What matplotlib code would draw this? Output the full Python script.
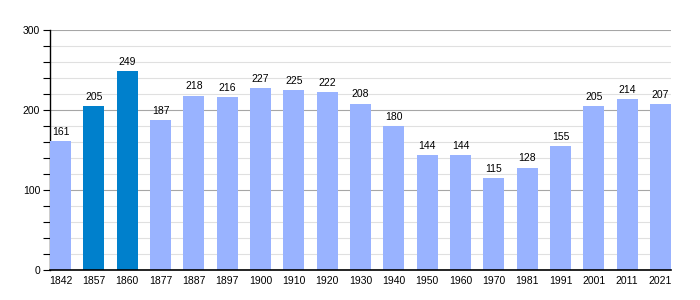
import matplotlib.pyplot as plt
from matplotlib.ticker import MultipleLocator

years = ["1842", "1857", "1860", "1877", "1887", "1897", "1900", "1910", "1920", "1930",
         "1940", "1950", "1960", "1970", "1981", "1991", "2001", "2011", "2021"]
population = [161, 205, 249, 187, 218, 216, 227, 225, 222, 208,
              180, 144, 144, 115, 128, 155, 205, 214, 207]
highlight = ["1857", "1860"]

plt.rcParams['font.family'] = ['Liberation Sans', 'DejaVu Sans']

fig = plt.figure(figsize=(7, 3), dpi=100)
ax = fig.add_axes([50 / 700, 0.1, 621 / 700, 0.8])

colors = ['#0080cc' if y in highlight else '#99b3ff' for y in years]
x = range(len(years))
bars = ax.bar(x, population, width=0.63, color=colors, zorder=3)

for xi, v in zip(x, population):
    ax.annotate(str(v), (xi, v), xytext=(0, 3), textcoords='offset points',
                ha='center', va='bottom', fontsize=7.5, zorder=4)

ax.set_xlim(-0.315, len(years) - 1 + 0.315)
ax.set_ylim(0, 300)
ax.set_xticks(list(x))
ax.set_xticklabels(years, fontsize=7.5)
ax.tick_params(axis='x', length=0, pad=4)

ax.yaxis.set_major_locator(MultipleLocator(100))
ax.yaxis.set_minor_locator(MultipleLocator(20))
ax.tick_params(axis='y', which='both', length=5, width=0.8, labelsize=7.5, pad=2)
ax.grid(axis='y', which='minor', color='#e0e0e0', linewidth=0.8, zorder=0)
ax.grid(axis='y', which='major', color='#a6a6a6', linewidth=0.8, zorder=1)

for s in ['top', 'right']:
    ax.spines[s].set_visible(False)
ax.spines['left'].set_linewidth(1)
ax.spines['bottom'].set_linewidth(1.2)
ax.spines['bottom'].set_zorder(5)

fig.savefig('out.png', dpi=100)
